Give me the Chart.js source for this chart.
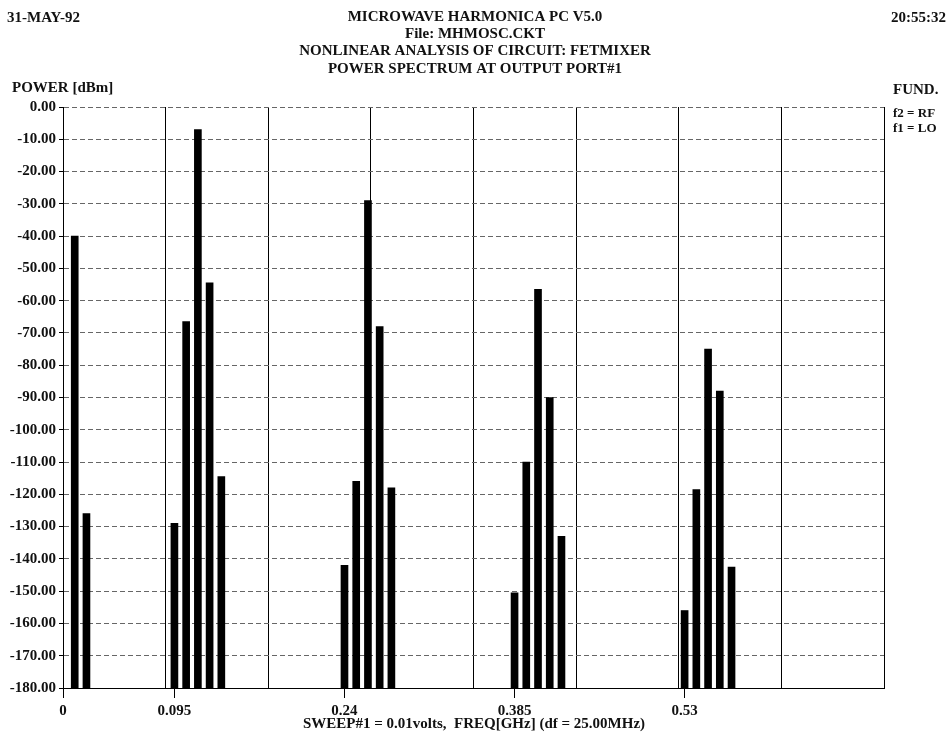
<!doctype html>
<html>
<head>
	<title>Power Spectrum</title>
	<script src="https://cdn.jsdelivr.net/npm/chart.js@4.4.1/dist/chart.umd.min.js"></script>
	<style>
		body { margin: 0; background: #fff; }
		#wrap { width: 950px; height: 740px; }
	</style>
</head>
<body>
	<div id="wrap"><canvas id="canvas" width="950" height="740"></canvas></div>
	<script>
		// frequencies in GHz and power in dBm
		var freqs  = [0.01, 0.02,
		              0.095, 0.105, 0.115, 0.125, 0.135,
		              0.24, 0.25, 0.26, 0.27, 0.28,
		              0.385, 0.395, 0.405, 0.415, 0.425,
		              0.53, 0.54, 0.55, 0.56, 0.57];
		var powers = [-40, -126,
		              -129, -66.5, -7, -54.5, -114.5,
		              -142, -116, -29, -68, -118,
		              -150.5, -110, -56.5, -90, -133,
		              -156, -118.5, -75, -88, -142.5];
		var floorDbm = -180;

		var xGridVals  = [0, 0.0875, 0.175, 0.2625, 0.35, 0.4375, 0.525, 0.6125, 0.7];
		var xTickVals  = [0, 0.095, 0.24, 0.385, 0.53];
		var xTickNames = ['0', '0.095', '0.24', '0.385', '0.53'];

		var headerLines = ['MICROWAVE HARMONICA PC V5.0', 'File: MHMOSC.CKT',
		                   'NONLINEAR ANALYSIS OF CIRCUIT: FETMIXER', 'POWER SPECTRUM AT OUTPUT PORT#1'];

		function near(a, b) { return Math.abs(a - b) < 1e-6; }
		function isGrid(v) { return xGridVals.some(g => near(g, v)); }
		function tickIndex(v) { return xTickVals.findIndex(t => near(t, v)); }

		var bars = freqs.map((f, i) => ({x: f, y: [floorDbm, powers[i]]}));

		var serif = '"Liberation Serif", "DejaVu Serif", serif';

		var textPlugin = {
			id: 'texts',
			afterDraw: function (chart) {
				var ctx = chart.ctx;
				ctx.save();
				ctx.fillStyle = '#111';
				ctx.textBaseline = 'middle';
				ctx.font = 'bold 15px ' + serif;
				ctx.textAlign = 'left';
				ctx.fillText('31-MAY-92', 7, 18);
				ctx.fillText('POWER [dBm]', 12, 88);
				ctx.fillText('FUND.', 893, 90);
				ctx.textAlign = 'right';
				ctx.fillText('20:55:32', 946, 18);
				ctx.textAlign = 'center';
				headerLines.forEach((t, i) => ctx.fillText(t, 475, 17 + i * 17.3));
				ctx.fillText('SWEEP#1 = 0.01volts,  FREQ[GHz] (df = 25.00MHz)', 474, 724);
				ctx.font = 'bold 13px ' + serif;
				ctx.textAlign = 'left';
				ctx.fillText('f2 = RF', 893, 114);
				ctx.fillText('f1 = LO', 893, 129);
				ctx.restore();
			}
		};

		new Chart(document.getElementById('canvas').getContext('2d'), {
			type: 'bar',
			data: {
				datasets: [{
					label: 'Power',
					data: bars,
					backgroundColor: '#000',
					borderWidth: 0,
					barThickness: 7
				}]
			},
			options: {
				responsive: false,
				animation: false,
				layout: { padding: { left: 0, top: 107, right: 66, bottom: 0 } },
				plugins: { legend: { display: false }, tooltip: { enabled: false } },
				scales: {
					x: {
						type: 'linear',
						min: 0,
						max: 0.7,
						offset: false,
						afterBuildTicks: function (scale) {
							var vals = xGridVals.concat(xTickVals.filter(v => !isGrid(v)));
							vals.sort((a, b) => a - b);
							scale.ticks = vals.map(v => ({value: v}));
						},
						afterFit: function (scale) { scale.height = 52; },
						grid: {
							offset: false,
							color: ctx => isGrid(ctx.tick.value) ? '#000' : 'rgba(0,0,0,0)',
							tickColor: ctx => tickIndex(ctx.tick.value) >= 0 ? '#000' : 'rgba(0,0,0,0)',
							tickLength: 10,
							lineWidth: 1
						},
						border: { display: true, color: '#000', width: 1 },
						ticks: {
							autoSkip: false,
							maxRotation: 0,
							padding: 4,
							color: '#111',
							font: { family: serif, size: 15, weight: 'bold' },
							callback: function (v) {
								var k = tickIndex(v);
								return k >= 0 ? xTickNames[k] : '';
							}
						}
					},
					y: {
						min: -180,
						max: 0,
						afterFit: function (scale) { scale.width = 63; },
						grid: {
							color: '#666',
							lineWidth: 1,
							tickColor: '#000',
							tickLength: 4
						},
						border: { display: true, color: '#000', width: 1, dash: [5, 3] },
						ticks: {
							stepSize: 10,
							padding: 3,
							color: '#111',
							font: { family: serif, size: 15, weight: 'bold' },
							callback: v => (v === 0 ? 0 : v).toFixed(2)
						}
					}
				}
			},
			plugins: [textPlugin]
		});
	</script>
</body>
</html>
